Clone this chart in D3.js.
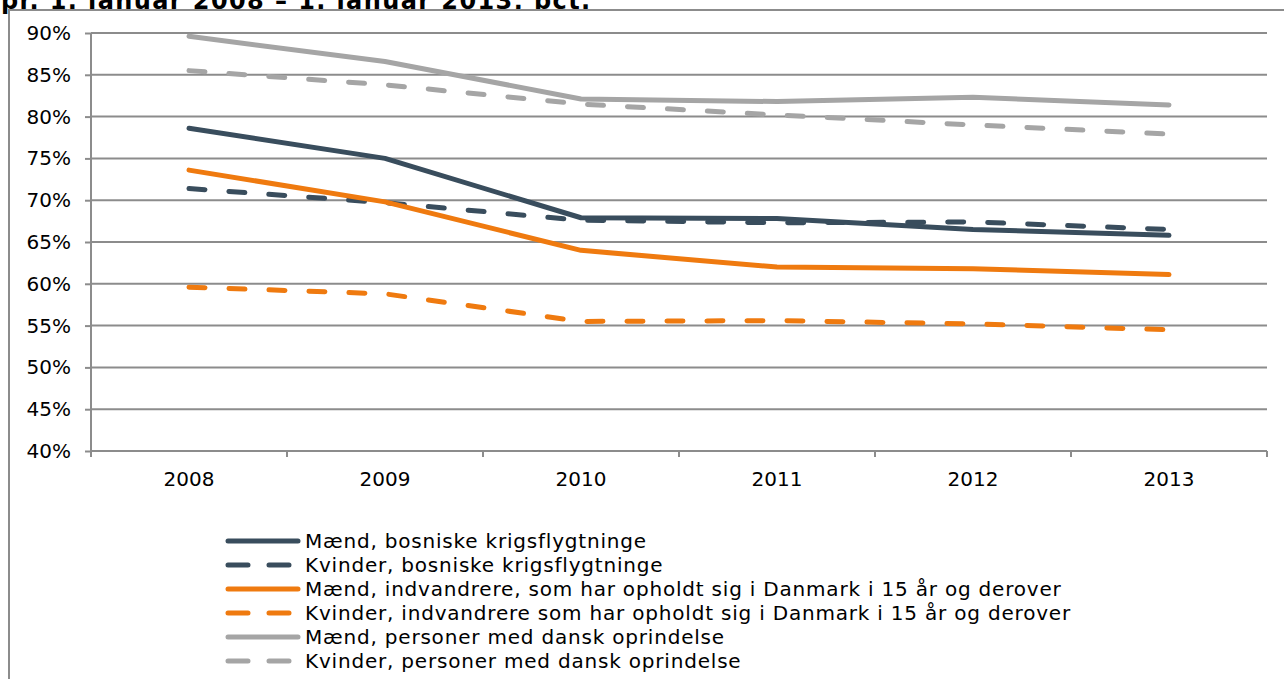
<!DOCTYPE html>
<html>
<head>
<meta charset="utf-8">
<script src="https://cdn.jsdelivr.net/npm/d3@7"></script>
<style>
  body { margin: 0; background: #fff; }
  text { font-family: "DejaVu Sans", Verdana, sans-serif; fill: #000; }
</style>
</head>
<body>
<div id="chart"></div>
<script>
var years = ["2008", "2009", "2010", "2011", "2012", "2013"];
var yTicks = [40, 45, 50, 55, 60, 65, 70, 75, 80, 85, 90];

var maendBosnien = [78.6, 75.0, 67.9, 67.8, 66.5, 65.8];
var kvinderBosnien = [71.4, 69.7, 67.6, 67.3, 67.4, 66.5];
var maendIndvandrere = [73.6, 69.8, 64.0, 62.0, 61.8, 61.1];
var kvinderIndvandrere = [59.6, 58.8, 55.5, 55.6, 55.2, 54.5];
var maendDansk = [89.6, 86.6, 82.1, 81.8, 82.3, 81.4];
var kvinderDansk = [85.5, 83.8, 81.5, 80.2, 79.0, 77.9];

var seriesNames = [
  "Mænd, bosniske krigsflygtninge",
  "Kvinder, bosniske krigsflygtninge",
  "Mænd, indvandrere, som har opholdt sig i Danmark i 15 år og derover",
  "Kvinder, indvandrere som har opholdt sig i Danmark i 15 år og derover",
  "Mænd, personer med dansk oprindelse",
  "Kvinder, personer med dansk oprindelse"
];

var dark = "#394d5d", orange = "#ef7a0f", grey = "#a5a5a5";

var series = [
  { name: seriesNames[0], values: maendBosnien, color: dark, dashed: false },
  { name: seriesNames[1], values: kvinderBosnien, color: dark, dashed: true },
  { name: seriesNames[2], values: maendIndvandrere, color: orange, dashed: false },
  { name: seriesNames[3], values: kvinderIndvandrere, color: orange, dashed: true },
  { name: seriesNames[4], values: maendDansk, color: grey, dashed: false },
  { name: seriesNames[5], values: kvinderDansk, color: grey, dashed: true }
];

var width = 1284, height = 679;
var plot = { left: 91, right: 1267, top: 33, bottom: 451 };

var svg = d3.select("#chart").append("svg")
    .attr("width", width)
    .attr("height", height);

// title, cut off at top by the page edge
svg.append("text")
    .attr("x", 1)
    .attr("y", 9)
    .style("font-weight", "bold")
    .style("font-size", "24px")
    .style("letter-spacing", "1.4px")
    .text("pr. 1. januar 2008 – 1. januar 2013, pct.");

// outer frame (cut off at right and bottom), hides title descenders
svg.append("rect")
    .attr("x", 9)
    .attr("y", 10)
    .attr("width", width)
    .attr("height", height)
    .attr("fill", "#fff")
    .attr("stroke", "#8c8c8c")
    .attr("stroke-width", 2);

var x = d3.scaleBand()
    .domain(years)
    .range([plot.left, plot.right]);

var y = d3.scaleLinear()
    .domain([40, 90])
    .range([plot.bottom, plot.top]);

// gridlines
svg.append("g")
  .selectAll("line")
  .data(yTicks)
  .join("line")
    .attr("x1", plot.left)
    .attr("x2", plot.right)
    .attr("y1", d => y(d))
    .attr("y2", d => y(d))
    .attr("stroke", "#8c8c8c")
    .attr("stroke-width", 2);

// y axis
var yAxis = svg.append("g")
    .attr("transform", "translate(" + plot.left + ",0)")
    .call(d3.axisLeft(y).tickValues(yTicks).tickSize(6).tickPadding(14)
      .tickFormat(d => d + "%"));
yAxis.select(".domain").attr("stroke", "#8c8c8c").attr("stroke-width", 2)
    .attr("d", "M0," + plot.top + "V" + (plot.bottom + 6));
yAxis.selectAll(".tick line").attr("stroke", "#8c8c8c").attr("stroke-width", 2);
yAxis.selectAll(".tick text")
    .style("font-size", "20px")
    .style("font-family", "'DejaVu Sans', Verdana, sans-serif")
    .attr("fill", "#000");

// x axis with ticks on band boundaries
var xAxis = svg.append("g")
    .attr("transform", "translate(0," + plot.bottom + ")");
xAxis.append("line")
    .attr("x1", plot.left)
    .attr("x2", plot.right)
    .attr("stroke", "#8c8c8c")
    .attr("stroke-width", 2);
var bounds = years.map(d => x(d)).concat([x(years[years.length - 1]) + x.bandwidth()]);
xAxis.selectAll("line.tk")
  .data(bounds)
  .join("line")
    .attr("class", "tk")
    .attr("x1", d => d)
    .attr("x2", d => d)
    .attr("y1", 0)
    .attr("y2", 6)
    .attr("stroke", "#8c8c8c")
    .attr("stroke-width", 2);
xAxis.selectAll("text")
  .data(years)
  .join("text")
    .attr("x", d => x(d) + x.bandwidth() / 2)
    .attr("y", 35)
    .attr("text-anchor", "middle")
    .style("font-size", "20px")
    .text(d => d);

// lines
var line = d3.line()
    .x((d, i) => x(years[i]) + x.bandwidth() / 2)
    .y(d => y(d));

svg.append("g")
  .selectAll("path")
  .data(series)
  .join("path")
    .attr("d", d => line(d.values))
    .attr("fill", "none")
    .attr("stroke", d => d.color)
    .attr("stroke-width", 5)
    .attr("stroke-linecap", "round")
    .attr("stroke-linejoin", "round")
    .attr("stroke-dasharray", d => d.dashed ? "16,24" : null);

// legend
var legend = svg.append("g")
  .selectAll("g")
  .data(series)
  .join("g")
    .attr("transform", (d, i) => "translate(228," + (541 + i * 24) + ")");

legend.append("line")
    .attr("x1", 0)
    .attr("x2", 70)
    .attr("stroke", d => d.color)
    .attr("stroke-width", 5)
    .attr("stroke-linecap", "round")
    .attr("stroke-dasharray", d => d.dashed ? "20,21" : null);

legend.append("text")
    .attr("x", 77)
    .attr("dy", "0.36em")
    .style("font-size", "20px")
    .style("letter-spacing", "0.8px")
    .text(d => d.name);
</script>
</body>
</html>
